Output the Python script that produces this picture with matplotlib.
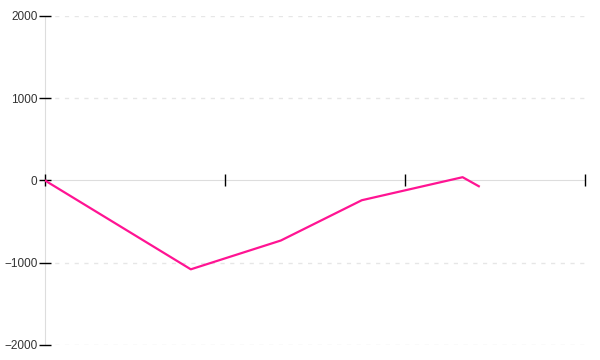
import numpy as np
import matplotlib
matplotlib.use("Agg")
import matplotlib.pyplot as plt

plt.rcParams["font.family"] = ["Liberation Sans", "DejaVu Sans"]

# values
x_vals = [0.0, 0.81, 1.31, 1.76, 2.32, 2.41]
y_vals = [0, -1080, -730, -240, 40, -70]
x_ticks = [0, 1, 2, 3]
y_ticks = [-2000, -1000, 0, 1000, 2000]

fig = plt.figure(figsize=(6, 3.6), dpi=100)
ax = fig.add_axes([0.075, 0.0417, 0.9, 0.9139])

# dashed grid lines
for yv in y_ticks:
    if yv != 0:
        ax.axhline(yv, color="#e6e6e6", lw=1, ls=(0, (3, 4)), zorder=0)

ax.plot(x_vals, y_vals, color="#ff1493", lw=1.6, zorder=3)

ax.set_xlim(0, 3)
ax.set_ylim(-2000, 2000)

for side in ["top", "right"]:
    ax.spines[side].set_visible(False)
ax.spines["bottom"].set_position(("data", 0))
for side in ["bottom", "left"]:
    ax.spines[side].set_color("#dddddd")
    ax.spines[side].set_zorder(0.5)  # keep the black ticks on top

ax.set_xticks(x_ticks)
ax.set_xticklabels([])
ax.set_yticks(y_ticks)
ax.set_yticklabels([str(v).replace("-", "\u2212") for v in y_ticks])
ax.tick_params(axis="x", direction="inout", length=9, width=1, color="black")
ax.tick_params(axis="y", direction="inout", length=9, width=1, color="black",
               labelsize=8.5, labelcolor="#333333", pad=1)

fig.savefig("out.png", dpi=100)
